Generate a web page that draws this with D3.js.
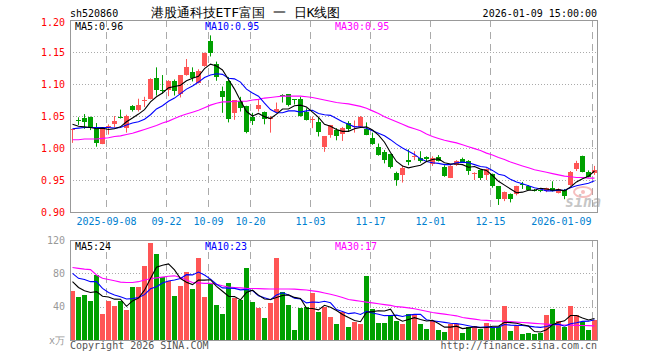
<!DOCTYPE html>
<html>
<head>
<meta charset="utf-8">
<script src="https://cdn.jsdelivr.net/npm/d3@7"></script>
<style>
  body { margin: 0; background: #fff; }
  svg text { font-family: "DejaVu Sans Mono", monospace; }
</style>
</head>
<body>
<svg id="chart" width="660" height="360"></svg>
<script>
// trading days shown on the chart
const dates = [
  "2025-08-29",
  "2025-09-01","2025-09-02","2025-09-03","2025-09-04","2025-09-05",
  "2025-09-08","2025-09-09","2025-09-10","2025-09-11","2025-09-12",
  "2025-09-15","2025-09-16","2025-09-17","2025-09-18","2025-09-19",
  "2025-09-22","2025-09-23","2025-09-24","2025-09-25","2025-09-26",
  "2025-09-29","2025-09-30",
  "2025-10-09","2025-10-10",
  "2025-10-13","2025-10-14","2025-10-15","2025-10-16","2025-10-17",
  "2025-10-20","2025-10-21","2025-10-22","2025-10-23","2025-10-24",
  "2025-10-27","2025-10-28","2025-10-29","2025-10-30","2025-10-31",
  "2025-11-03","2025-11-04","2025-11-05","2025-11-06","2025-11-07",
  "2025-11-10","2025-11-11","2025-11-12","2025-11-13","2025-11-14",
  "2025-11-17","2025-11-18","2025-11-19","2025-11-20","2025-11-21",
  "2025-11-24","2025-11-25","2025-11-26","2025-11-27","2025-11-28",
  "2025-12-01","2025-12-02","2025-12-03","2025-12-04","2025-12-05",
  "2025-12-08","2025-12-09","2025-12-10","2025-12-11","2025-12-12",
  "2025-12-15","2025-12-16","2025-12-17","2025-12-18","2025-12-19",
  "2025-12-22","2025-12-23","2025-12-24","2025-12-25","2025-12-26",
  "2025-12-29","2025-12-30","2025-12-31",
  "2026-01-05","2026-01-06","2026-01-07","2026-01-08","2026-01-09"
];

const open = [
  1.027,1.043,1.047,1.048,1.032,1.007,1.032,1.038,1.049,1.032,
  1.066,1.059,1.073,1.076,1.109,1.091,1.090,1.105,1.085,1.114,
  1.118,1.102,1.128,1.167,1.131,1.089,1.104,1.054,1.073,1.066,
  1.049,1.060,1.057,1.045,1.056,1.083,1.084,1.076,1.077,1.057,
  1.044,1.041,1.001,1.021,1.028,1.021,1.039,1.032,1.034,1.029,
  1.016,1.002,0.993,0.991,0.961,0.957,0.981,0.986,0.985,0.986,
  0.975,0.986,0.971,0.954,0.973,0.983,0.980,0.960,0.965,0.958,
  0.959,0.940,0.920,0.928,0.927,0.943,0.941,0.935,0.934,0.932,
  0.938,0.930,0.934,0.942,0.966,0.987,0.963,0.960
];
const high = [
  1.030,1.048,1.053,1.049,1.039,1.032,1.037,1.050,1.060,1.052,
  1.067,1.077,1.080,1.109,1.126,1.114,1.106,1.107,1.114,1.139,
  1.126,1.123,1.149,1.176,1.135,1.096,1.111,1.075,1.080,1.066,
  1.055,1.075,1.057,1.050,1.071,1.084,1.084,1.076,1.080,1.062,
  1.049,1.048,1.018,1.036,1.031,1.033,1.042,1.043,1.050,1.040,
  1.024,1.007,0.997,0.991,0.963,0.973,0.998,0.995,0.995,0.987,
  0.987,0.989,0.973,0.973,0.981,0.985,0.981,0.962,0.966,0.968,
  0.960,0.940,0.932,0.929,0.941,0.947,0.942,0.936,0.935,0.938,
  0.948,0.937,0.936,0.964,0.980,0.988,0.965,0.972
];
const low = [
  1.008,1.036,1.030,1.028,1.002,1.006,1.021,1.032,1.046,1.024,
  1.057,1.057,1.064,1.076,1.082,1.085,1.081,1.082,1.079,1.113,
  1.104,1.101,1.127,1.143,1.105,1.055,1.040,1.044,1.057,1.023,
  1.036,1.057,1.037,1.024,1.054,1.071,1.065,1.068,1.049,1.043,
  1.031,1.018,0.994,1.016,1.012,1.011,1.026,1.024,1.033,1.020,
  1.005,0.988,0.976,0.968,0.941,0.946,0.973,0.981,0.977,0.979,
  0.972,0.979,0.955,0.953,0.972,0.978,0.958,0.950,0.950,0.950,
  0.938,0.911,0.917,0.915,0.926,0.936,0.934,0.932,0.931,0.931,
  0.932,0.929,0.920,0.941,0.964,0.962,0.954,0.958
];
const close = [
  1.029,1.042,1.040,1.033,1.008,1.032,1.034,1.042,1.048,1.050,
  1.059,1.067,1.075,1.108,1.091,1.090,1.104,1.089,1.114,1.127,
  1.109,1.120,1.149,1.149,1.111,1.079,1.045,1.075,1.062,1.025,
  1.043,1.067,1.046,1.047,1.061,1.082,1.067,1.075,1.050,1.045,
  1.045,1.026,1.018,1.036,1.018,1.031,1.029,1.034,1.049,1.020,
  1.006,0.989,0.981,0.970,0.950,0.968,0.978,0.987,0.980,0.983,
  0.984,0.980,0.957,0.972,0.980,0.979,0.964,0.961,0.952,0.967,
  0.940,0.920,0.931,0.920,0.940,0.942,0.935,0.934,0.933,0.937,
  0.933,0.936,0.925,0.963,0.976,0.962,0.955,0.965
];

// volume, in 万
const volume = [
  58.8,51.6,54,47.2,78.4,31.2,47.2,40.8,46.8,36,
  63.6,63.6,89.2,116.8,103.2,76,71.2,53.2,65.2,81.6,
  61.2,98.8,52,68,42,31.6,68.8,50,48,86.4,
  46,38.8,26.8,44.8,98.8,58,42,12,38.8,39.2,
  56.8,34,39.2,27.2,19.2,34,15.2,22,19.2,76.8,
  37.2,20.4,20.4,29.6,22.8,19.2,31.2,31.2,19.2,13.2,
  23.2,12,9.6,19.2,19.2,8.4,16,16.8,13.2,20.4,
  16,16,40.8,10.8,16.8,7.2,8.4,7.2,8.4,30,
  37.2,23.2,16,40.8,30,21.6,12,24
];

// moving average lines
const ma5 = [
  1.037,1.034,1.033,1.032,1.030,1.031,1.029,1.030,1.033,1.041,
  1.047,1.053,1.060,1.072,1.080,1.086,1.094,1.096,1.098,1.105,
  1.109,1.112,1.124,1.131,1.128,1.122,1.107,1.092,1.074,1.057,
  1.050,1.054,1.049,1.046,1.053,1.061,1.061,1.066,1.067,1.064,
  1.056,1.048,1.037,1.034,1.029,1.026,1.026,1.030,1.032,1.033,
  1.028,1.020,1.009,0.993,0.979,0.972,0.969,0.971,0.973,0.979,
  0.982,0.983,0.977,0.975,0.975,0.974,0.970,0.971,0.967,0.965,
  0.957,0.948,0.942,0.936,0.930,0.931,0.934,0.934,0.937,0.936,
  0.934,0.935,0.933,0.939,0.947,0.952,0.956,0.964
];
const ma10 = [
  1.030,1.031,1.032,1.032,1.032,1.032,1.032,1.031,1.032,1.036,
  1.039,1.041,1.045,1.052,1.061,1.066,1.073,1.078,1.085,1.092,
  1.097,1.103,1.110,1.114,1.116,1.115,1.109,1.108,1.103,1.092,
  1.086,1.081,1.070,1.060,1.055,1.055,1.058,1.058,1.056,1.058,
  1.059,1.054,1.052,1.051,1.046,1.041,1.037,1.033,1.033,1.031,
  1.027,1.023,1.019,1.013,1.006,1.000,0.995,0.990,0.983,0.979,
  0.977,0.976,0.974,0.974,0.977,0.978,0.977,0.974,0.971,0.970,
  0.965,0.959,0.957,0.951,0.947,0.944,0.941,0.938,0.936,0.933,
  0.933,0.934,0.934,0.938,0.941,0.943,0.945,0.949
];
const ma30 = [
  1.013,1.013,1.014,1.014,1.014,1.015,1.016,1.018,1.019,1.021,
  1.023,1.026,1.029,1.032,1.035,1.039,1.042,1.046,1.050,1.053,
  1.056,1.059,1.063,1.067,1.070,1.072,1.072,1.073,1.073,1.073,
  1.075,1.076,1.078,1.079,1.080,1.081,1.081,1.081,1.081,1.080,
  1.079,1.077,1.075,1.073,1.071,1.070,1.069,1.067,1.065,1.062,
  1.058,1.054,1.049,1.045,1.041,1.037,1.033,1.030,1.027,1.022,
  1.018,1.015,1.012,1.010,1.008,1.005,1.002,0.999,0.996,0.992,
  0.989,0.985,0.982,0.978,0.975,0.972,0.969,0.966,0.964,0.962,
  0.960,0.958,0.956,0.955,0.954,0.954,0.953,0.953
];
const vma5 = [
  70,63,59,57,58,52.5,51.6,49,48.9,40.4,
  46.9,50.2,59.8,73.8,87.3,89.8,91.3,84.1,73.8,69.4,
  66.5,72,71.8,72.3,64.4,58.5,52.5,52.1,48.1,57,
  59.8,53.8,49.2,48.6,51,53.4,54.1,51.1,49.9,38,
  37.8,36.2,41.6,39.3,35.3,30.7,27,23.5,21.9,33.4,
  34.1,35.1,34.8,36.9,26.1,22.5,24.6,26.8,24.7,22.8,
  23.6,19.8,15.4,15.4,16.6,13.7,14.5,15.9,14.7,15,
  16.5,16.5,21.3,20.8,20.1,18.3,16.8,10.1,9.6,12.2,
  18.2,21.2,23,29.4,29.4,26.3,24.1,25.7
];
const vma10 = [
  80,74,72.5,70,70,62,57,54,52,49.2,
  49.7,50.9,54.4,61.4,63.8,68.3,70.7,72,73.8,78.4,
  78.1,81.6,77.9,73,66.9,62.5,62.2,61.9,60.2,60.7,
  59.2,53.2,50.6,48.3,54,56.6,54,50.2,49.2,44.5,
  45.6,45.1,46.4,44.6,36.6,34.2,31.6,32.6,30.6,34.4,
  32.4,31,29.2,29.4,29.8,28.3,29.9,30.8,30.8,24.4,
  23,22.2,21.1,20.1,19.7,18.6,17.1,15.7,15.1,15.8,
  15.1,15.5,18.6,17.8,17.5,17.4,16.6,15.7,15.2,16.2,
  18.3,19,16.5,19.5,20.8,22.3,22.6,24.3
];
const vma30 = [
  87,86,85,84.5,78,74,72.5,71,69.5,69,
  69,70,72,73.5,74.5,75.5,76.5,77,75,72,
  69,68.5,68,68,67,65,63.5,63,62.5,62,
  61.8,61.6,61.4,61.2,61.2,61.2,61.2,61,60.5,60,
  59,58,56.5,55,53,51,48.5,47.5,46.5,45.5,
  44.5,43.5,42.5,41.5,40,39.5,38.5,37.5,36,34.5,
  33,32,31,30,29,27,26,25,24,23.5,
  23,22.8,22.5,22,21.5,21,20.5,20,19.5,19,
  18.5,18.2,18,17.8,17.6,17.4,17.2,17
];

const priceTicks = [0.90, 0.95, 1.00, 1.05, 1.10, 1.15, 1.20];
const volTicks = [40, 80, 120];
const dateTicks = ["2025-09-08","2025-09-22","2025-10-09","2025-10-20","2025-11-03",
                   "2025-11-17","2025-12-01","2025-12-15","2026-01-09"];
const dateLabels = ["2025-09-08","09-22","10-09","10-20","11-03","11-17","12-01","12-15","2026-01-09"];

const UP = "#ff5555", DOWN = "#00a000";
const GRID = "#aaaaaa";

const svg = d3.select("#chart");

const left = 70, right = 597;
const pTop = 20, pBottom = 212;
const vTop = 240, vBottom = 340;

const x = d3.scaleBand().domain(dates).range([69.5, 597.5])
  .paddingInner(1 / 6).paddingOuter(1 / 12);
const cx = d => x(d) + x.bandwidth() / 2;

const y = d3.scaleLinear().domain([0.90, 1.20]).range([pBottom, pTop]);
const yv = d3.scaleLinear().domain([0, 120]).range([vBottom, vTop]);

const candles = dates.map((d, i) => ({
  date: d, o: open[i], h: high[i], l: low[i], c: close[i], v: volume[i]
}));

// ---- grid ----
const grid = svg.append("g");
[[pTop, pBottom], [vTop, vBottom]].forEach(([t, b]) => {
  grid.selectAll(null).data(dateTicks).enter().append("line")
    .attr("x1", d => cx(d) - 2).attr("x2", d => cx(d) - 2)
    .attr("y1", t).attr("y2", b)
    .attr("stroke", GRID).attr("stroke-dasharray", "7,5");
});
grid.selectAll(null).data(priceTicks.slice(1, -1)).enter().append("line")
  .attr("x1", left).attr("x2", right)
  .attr("y1", d => Math.round(y(d)) + 0.5).attr("y2", d => Math.round(y(d)) + 0.5)
  .attr("stroke", GRID).attr("stroke-dasharray", "1,2");
grid.selectAll(null).data(volTicks.slice(0, -1)).enter().append("line")
  .attr("x1", left).attr("x2", right)
  .attr("y1", d => Math.round(yv(d)) + 0.5).attr("y2", d => Math.round(yv(d)) + 0.5)
  .attr("stroke", GRID).attr("stroke-dasharray", "1,2");

// ---- watermark ----
const wm = svg.append("g").attr("opacity", 0.55);
wm.append("ellipse").attr("cx", 583).attr("cy", 192).attr("rx", 9).attr("ry", 5)
  .attr("fill", "none").attr("stroke", "#f08a8a").attr("stroke-width", 2);
wm.append("circle").attr("cx", 583).attr("cy", 192).attr("r", 2).attr("fill", "#f08a8a");
wm.append("text").attr("x", 565).attr("y", 207).text("sina")
  .attr("font-family", "DejaVu Sans").attr("font-size", 15).attr("font-weight", "bold")
  .attr("font-style", "italic").attr("fill", "#999");

// ---- candles ----
const cg = svg.append("g");
cg.selectAll(".wick").data(candles).enter().append("line")
  .attr("x1", d => cx(d.date)).attr("x2", d => cx(d.date))
  .attr("y1", d => y(d.h)).attr("y2", d => y(d.l))
  .attr("stroke", d => d.c >= d.o ? UP : DOWN);
cg.selectAll(".body").data(candles).enter().append("rect")
  .attr("x", d => x(d.date)).attr("width", x.bandwidth())
  .attr("y", d => Math.round(y(Math.max(d.o, d.c))))
  .attr("height", d => Math.max(1, Math.round(Math.abs(y(d.o) - y(d.c)))))
  .attr("fill", d => d.c >= d.o ? UP : DOWN);

// ---- volume bars ----
svg.append("g").selectAll("rect").data(candles).enter().append("rect")
  .attr("x", d => x(d.date)).attr("width", x.bandwidth())
  .attr("y", d => Math.round(yv(d.v)))
  .attr("height", d => vBottom - Math.round(yv(d.v)))
  .attr("fill", d => d.c >= d.o ? UP : DOWN);

// ---- moving averages ----
const pLine = d3.line().x((d, i) => cx(dates[i])).y(d => y(d));
const vLine = d3.line().x((d, i) => cx(dates[i])).y(d => yv(d));
[[ma30, "#ff00ff"], [ma10, "#0000ff"], [ma5, "#000000"]].forEach(([s, col]) => {
  svg.append("path").attr("d", pLine(s)).attr("fill", "none")
    .attr("stroke", col).attr("stroke-width", 1.1);
});
[[vma30, "#ff00ff"], [vma10, "#0000ff"], [vma5, "#000000"]].forEach(([s, col]) => {
  svg.append("path").attr("d", vLine(s)).attr("fill", "none")
    .attr("stroke", col).attr("stroke-width", 1.1);
});

// ---- frames ----
svg.append("rect").attr("x", left + 0.5).attr("y", pTop + 0.5)
  .attr("width", right - left).attr("height", pBottom - pTop)
  .attr("fill", "none").attr("stroke", "#999");
svg.append("rect").attr("x", left + 0.5).attr("y", vTop + 0.5)
  .attr("width", right - left).attr("height", vBottom - vTop)
  .attr("fill", "none").attr("stroke", "#999");

// ---- axes ----
const pAxis = svg.append("g").attr("transform", `translate(${left},0)`)
  .call(d3.axisLeft(y).tickValues(priceTicks).tickSize(0).tickPadding(5).tickFormat(d3.format(".2f")));
pAxis.select(".domain").remove();
pAxis.selectAll("text").attr("fill", "#ff0000").attr("font-size", 10)
  .attr("font-family", "DejaVu Sans Mono")
  .attr("dy", d => d === 1.20 ? "0.55em" : "0.32em");

const vAxis = svg.append("g").attr("transform", `translate(${left},0)`)
  .call(d3.axisLeft(yv).tickValues(volTicks).tickSize(0).tickPadding(5));
vAxis.select(".domain").remove();
vAxis.selectAll("text").attr("fill", "#999").attr("font-size", 10)
  .attr("font-family", "DejaVu Sans Mono").attr("dy", "0.32em");

const dAxis = svg.append("g").attr("transform", `translate(-2,${pBottom})`)
  .call(d3.axisBottom(x).tickValues(dateTicks).tickSize(0).tickPadding(6)
    .tickFormat((d, i) => dateLabels[i]));
dAxis.select(".domain").remove();
dAxis.selectAll("text").attr("fill", "#0080d0").attr("font-size", 10)
  .attr("font-family", "DejaVu Sans Mono");
dAxis.selectAll("text").filter((d, i) => i === dateTicks.length - 1)
  .attr("text-anchor", "end").attr("x", -1);

// ---- header / labels ----
const txt = (xx, yy, s, col, size, anchor) => svg.append("text")
  .attr("x", xx).attr("y", yy).text(s).attr("fill", col)
  .attr("font-size", size).attr("text-anchor", anchor || "start");

txt(70, 16.5, "sh520860", "#000", 10);
txt(150.5, 17, "港股通科技ETF富国\u2002一\u2002日K线图", "#000", 13)
  .attr("font-family", "'Noto Sans CJK SC', sans-serif");
txt(597, 16.5, "2026-01-09 15:00:00", "#000", 10, "end");

txt(75, 29.5, "MA5:0.96", "#000", 10);
txt(205, 29.5, "MA10:0.95", "#0000ff", 10);
txt(335, 29.5, "MA30:0.95", "#ff00ff", 10);

txt(75, 250, "MA5:24", "#000", 10);
txt(205, 250, "MA10:23", "#0000ff", 10);
txt(335, 250, "MA30:17", "#ff00ff", 10);

txt(65, 344, "x万", "#999", 10, "end").attr("font-family", "'Noto Sans CJK SC', sans-serif");
txt(70, 349, "Copyright 2026 SINA.COM", "#555", 10);
txt(597, 349, "http://finance.sina.com.cn", "#555", 10, "end");
</script>
</body>
</html>
